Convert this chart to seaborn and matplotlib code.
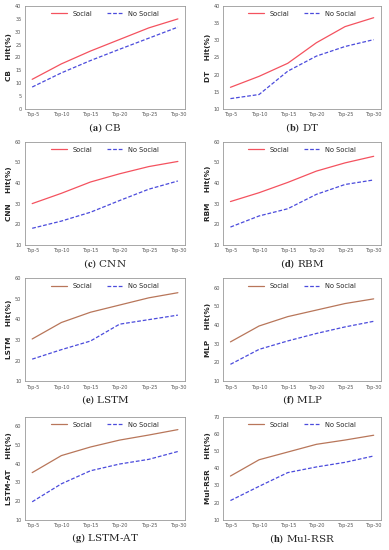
import matplotlib
matplotlib.use("Agg")
import matplotlib.pyplot as plt
import seaborn as sns
import pandas as pd

ks = ["Top-5", "Top-10", "Top-15", "Top-20", "Top-25", "Top-30"]

models = ["CB", "DT", "CNN", "RBM", "LSTM", "MLP", "LSTM-AT", "Mul-RSR"]
letters = ["a", "b", "c", "d", "e", "f", "g", "h"]

social = {
    "CB": [11.5, 17.5, 22.5, 27.0, 31.5, 35.0],
    "DT": [16.3, 19.5, 23.3, 29.3, 34.0, 36.6],
    "CNN": [30.0, 35.0, 40.5, 44.5, 48.0, 50.5],
    "RBM": [31.0, 35.3, 40.3, 45.8, 49.8, 53.0],
    "LSTM": [30.5, 38.5, 43.5, 47.0, 50.5, 53.0],
    "MLP": [31.0, 39.5, 44.5, 48.0, 51.5, 54.0],
    "LSTM-AT": [35.2, 44.3, 48.9, 52.6, 55.3, 58.2],
    "Mul-RSR": [35.5, 45.0, 49.5, 54.0, 56.5, 59.3],
}
no_social = {
    "CB": [8.5, 14.0, 18.8, 23.2, 27.5, 31.8],
    "DT": [13.0, 14.2, 21.0, 25.4, 28.2, 30.2],
    "CNN": [18.0, 21.5, 25.8, 31.5, 37.0, 41.0],
    "RBM": [18.6, 24.0, 27.5, 34.5, 39.3, 41.5],
    "LSTM": [20.7, 25.3, 29.5, 37.7, 39.9, 42.1],
    "MLP": [19.0, 27.0, 31.5, 35.5, 39.0, 42.0],
    "LSTM-AT": [19.6, 29.2, 36.2, 39.8, 42.3, 46.5],
    "Mul-RSR": [21.2, 29.5, 37.5, 40.8, 43.5, 47.2],
}

ylims = {
    "CB": (0, 40, 5), "DT": (10, 40, 5), "CNN": (10, 60, 10), "RBM": (10, 60, 10),
    "LSTM": (10, 60, 10), "MLP": (10, 65, 10), "LSTM-AT": (10, 65, 10), "Mul-RSR": (10, 70, 10),
}

sns.set_style("white")
plt.rcParams["mathtext.fontset"] = "stix"

fig = plt.figure(figsize=(3.89, 5.5), dpi=100)

lefts = [0.064, 0.574]
widths = [0.412, 0.405]
bottoms = [0.802, 0.555, 0.307, 0.055]
h = 0.187

for i, m in enumerate(models):
    r, c = divmod(i, 2)
    ax = fig.add_axes([lefts[c], bottoms[r], widths[c], h])
    df = pd.DataFrame({
        "k": ks * 2,
        "hit": social[m] + no_social[m],
        "type": ["Social"] * 6 + ["No Social"] * 6,
    })
    soc_col = "#f4525f" if i < 4 else "#b8765a"
    sns.lineplot(data=df, x="k", y="hit", hue="type", style="type",
                 palette={"Social": soc_col, "No Social": "#4b4bdc"},
                 dashes={"Social": "", "No Social": (3, 1.5)},
                 linewidth=0.9, ax=ax)
    lo, hi, step = ylims[m]
    ax.set_ylim(lo, hi)
    ax.set_yticks(range(lo, hi + 1, step) if hi % step == 0 else range(lo, hi, step))
    ax.set_xlim(-0.25, 5.25)
    ax.tick_params(labelsize=3.6, colors="#555555", length=1.5, pad=1)
    ax.set_xlabel("")
    ax.set_ylabel(f"{m}    Hit(%)", fontsize=5.3, fontweight="bold", labelpad=2)
    for s in ax.spines.values():
        s.set_color("#999999")
        s.set_linewidth(0.6)
    leg = ax.legend(loc="upper center", ncol=2, frameon=False, fontsize=4.8,
                    handlelength=2.4, columnspacing=2.2, borderaxespad=0.3)
    leg.set_title(None)
    cx = lefts[c] + widths[c] / 2
    fig.text(cx, bottoms[r] - 0.034, f"($\\mathbf{{{letters[i]}}}$) {m}",
             ha="center", va="center", fontsize=7.5, family="DejaVu Serif")

fig.savefig("out.png", dpi=100)
